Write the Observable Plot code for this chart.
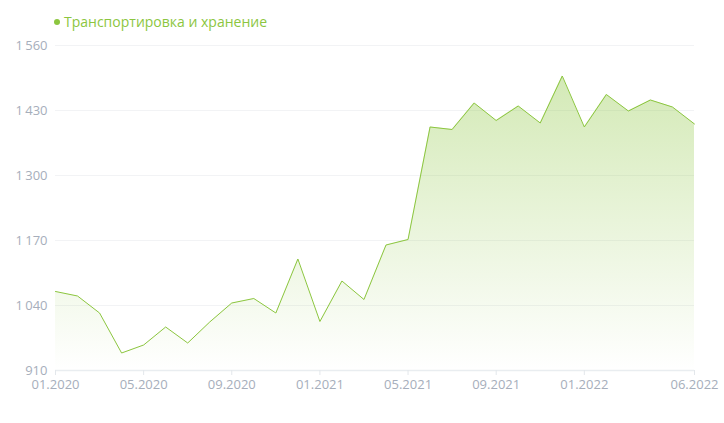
<!DOCTYPE html>
<html>
<head>
<meta charset="utf-8">
<script src="https://cdn.jsdelivr.net/npm/d3@7"></script>
<script src="https://cdn.jsdelivr.net/npm/@observablehq/plot@0.6"></script>
<style>
  html, body { margin: 0; padding: 0; background: #fff; }
  body { width: 724px; height: 423px; overflow: hidden; font-family: "Open Sans", sans-serif; }
  #legend { height: 35px; box-sizing: border-box; padding-top: 12px; padding-left: 54px; font-size: 14px; color: #8cc63f; line-height: 20px; }
  #legend .dot { display: inline-block; width: 6px; height: 6px; border-radius: 50%; background: #8cc63f; margin-right: 4px; vertical-align: middle; position: relative; top: -1px; }
</style>
</head>
<body>
<div id="legend"><span class="dot"></span>Транспортировка и хранение</div>
<div id="chart"></div>
<script>
const months = ["01.2020","02.2020","03.2020","04.2020","05.2020","06.2020","07.2020","08.2020","09.2020","10.2020","11.2020","12.2020",
  "01.2021","02.2021","03.2021","04.2021","05.2021","06.2021","07.2021","08.2021","09.2021","10.2021","11.2021","12.2021",
  "01.2022","02.2022","03.2022","04.2022","05.2022","06.2022"];
const values = [1068, 1059, 1025, 945, 961, 997, 965, 1007, 1045, 1054, 1025, 1133,
  1008, 1089, 1052, 1161, 1172, 1397, 1392, 1445, 1410, 1439, 1405, 1499,
  1397, 1462, 1429, 1451, 1437, 1403];
const yTicks = [910, 1040, 1170, 1300, 1430, 1560];
const xTickLabels = ["01.2020","05.2020","09.2020","01.2021","05.2021","09.2021","01.2022","06.2022"];

const data = months.map((m, i) => ({i, month: m, value: values[i]}));
const xTicks = xTickLabels.map(l => months.indexOf(l));
const fmt = d => String(d).replace(/\B(?=(\d{3})+$)/g, "\u2009");

const defs = () => {
  const d = d3.create("svg:defs");
  const g = d.append("linearGradient").attr("id", "areaGrad").attr("x1", 0).attr("y1", 0).attr("x2", 0).attr("y2", 1);
  g.append("stop").attr("offset", "0%").attr("stop-color", "#8cc63f").attr("stop-opacity", 0.38);
  g.append("stop").attr("offset", "100%").attr("stop-color", "#8cc63f").attr("stop-opacity", 0);
  return d.node();
};

const chart = Plot.plot({
  width: 724,
  height: 388,
  marginTop: 10,
  marginBottom: 53,
  marginLeft: 55,
  marginRight: 30,
  style: {fontFamily: "Open Sans, sans-serif", fontSize: "13px", color: "#a6aebb", background: "#fff"},
  x: {type: "linear", domain: [0, months.length - 1]},
  y: {domain: [910, 1560]},
  marks: [
    defs,
    Plot.ruleY(yTicks, {stroke: "#f2f3f5", strokeWidth: 1}),
    Plot.areaY(data, {x: "i", y1: 910, y2: "value", fill: "url(#areaGrad)"}),
    Plot.lineY(data, {x: "i", y: "value", stroke: "#8cc63f", strokeWidth: 1}),
    Plot.ruleY([910], {stroke: "#e9edf0", strokeWidth: 1.5}),
    Plot.axisY({ticks: yTicks, tickFormat: fmt, tickSize: 0, tickPadding: 8, fill: "#a6aebb", label: null, fontSize: 13}),
    Plot.axisX({ticks: xTicks, tickFormat: i => months[i], tickSize: 5, tickPadding: 4, stroke: "#e3e7eb", fill: "#a6aebb", label: null, fontSize: 13})
  ]
});
document.getElementById("chart").appendChild(chart);
</script>
</body>
</html>
